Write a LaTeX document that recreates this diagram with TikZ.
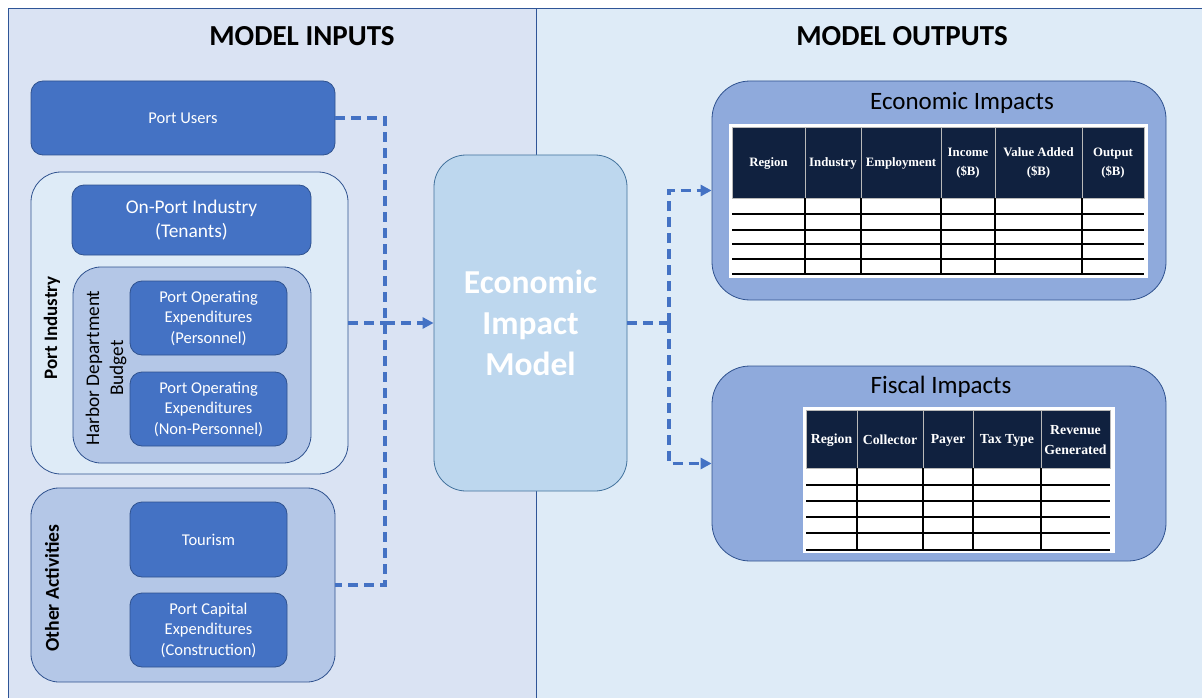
\documentclass[tikz,border=0pt]{standalone}
\usepackage{fontspec}
\setmainfont{Carlito}
\newfontfamily\serifhead{Liberation Serif}
\usetikzlibrary{arrows.meta}

\definecolor{leftbg}{HTML}{DAE3F3}
\definecolor{rightbg}{HTML}{DEEBF7}
\definecolor{panelline}{HTML}{2F5597}
\definecolor{boxblue}{HTML}{4472C4}
\definecolor{boxline}{HTML}{2F528F}
\definecolor{paleblue}{HTML}{DEEBF7}
\definecolor{midblue}{HTML}{B4C7E7}
\definecolor{modelblue}{HTML}{BDD7EE}
\definecolor{modelline}{HTML}{41719C}
\definecolor{outblue}{HTML}{8FAADC}
\definecolor{navy}{HTML}{10213F}

\tikzset{
  inbox/.style={draw=boxline, fill=boxblue, rounded corners=12pt, text=white,
    align=center, line width=0.8pt, inner sep=0pt,
    font=\fontsize{16.5}{20.5}\selectfont},
  group/.style={draw=boxline, line width=0.8pt, rounded corners=28pt, inner sep=0pt},
  sidelabel/.style={rotate=90, align=center, inner sep=0pt},
  flow/.style={draw=boxblue, line width=3.6pt, dash pattern=on 10pt off 6pt},
  flowtip/.style={-{Triangle[length=11pt,width=11pt]}},
  hcell/.style={draw=gray!55, fill=navy, line width=1pt},
  htext/.style={text=white, align=center, inner sep=0pt},
  rowline/.style={black, line width=1.3pt},
}

\begin{document}
\begin{tikzpicture}[x=1pt, y=-1pt]
\useasboundingbox (0,0) rectangle (1202,698);
\clip (0,0) rectangle (1202,698);
\fill[white] (0,0) rectangle (1202,698);

% two halves of the page
\draw[panelline, fill=leftbg, line width=0.8pt] (8,8) rectangle (536,712);
\draw[panelline, fill=rightbg, line width=0.8pt] (536,8) rectangle (1215,712);
\node[font=\fontsize{29}{34}\selectfont\bfseries] (inhead) at (302,36) {MODEL INPUTS};
\node[font=\fontsize{29}{34}\selectfont\bfseries] (outhead) at (902,36) {MODEL OUTPUTS};

% ---------- inputs ----------
\node[inbox] (pu) at (183,118) [minimum width=304pt, minimum height=74pt] {Port Users};

\node[group, fill=paleblue, rounded corners=30pt] (pi) at (189.5,323)
  [minimum width=317pt, minimum height=302pt] {};
\node[sidelabel, font=\fontsize{19}{23}\selectfont\bfseries] (pilab) at (52,328) {Port Industry};
\node[inbox, font=\fontsize{19.4}{24}\selectfont] (opi) at (191.5,220)
  [minimum width=239pt, minimum height=70pt] {On-Port Industry\\(Tenants)};

\node[group, fill=midblue] (hdb) at (192,365) [minimum width=238pt, minimum height=196pt] {};
\node[sidelabel, font=\fontsize{19.3}{24}\selectfont] (hdblab) at (106,368) {Harbor Department\\Budget};
\node[inbox] (poe1) at (208.5,318) [minimum width=157pt, minimum height=74pt]
  {Port Operating\\Expenditures\\(Personnel)};
\node[inbox] (poe2) at (208.5,409) [minimum width=157pt, minimum height=74pt]
  {Port Operating\\Expenditures\\(Non-Personnel)};

\node[group, fill=midblue] (oa) at (183,585) [minimum width=304pt, minimum height=194pt] {};
\node[sidelabel, font=\fontsize{19.7}{24}\selectfont\bfseries] (oalab) at (52,588) {Other Activities};
\node[inbox] (tour) at (208.5,539.5) [minimum width=157pt, minimum height=75pt] {Tourism};
\node[inbox] (pce) at (208.5,630) [minimum width=157pt, minimum height=74pt]
  {Port Capital\\Expenditures\\(Construction)};

% ---------- model ----------
\node[draw=modelline, fill=modelblue, line width=0.8pt, rounded corners=32pt,
      text=white, align=center, font=\fontsize{33.5}{41}\selectfont\bfseries]
  (mdl) at (530.5,323) [minimum width=193pt, minimum height=336pt]
  {Economic\\Impact\\Model};

% ---------- outputs ----------
\node[draw=boxline, fill=outblue, line width=0.8pt, rounded corners=38pt] (ei) at (939,190.5)
  [minimum width=454pt, minimum height=219pt] {};
\node[font=\fontsize{25}{30}\selectfont] (eititle) at (962,103) {Economic Impacts};

\node[draw=boxline, fill=outblue, line width=0.8pt, rounded corners=38pt] (fi) at (939,463.5)
  [minimum width=454pt, minimum height=195pt] {};
\node[font=\fontsize{25}{30}\selectfont] (fititle) at (941,387) {Fiscal Impacts};

% economic impacts table
\fill[white] (729,124) rectangle (1148,278);
\foreach \a/\b/\t in {732/805/{Region}, 805/861/{Industry}, 861/941/{Employment},
    941/995/{Income\\(\$B)}, 995/1082/{Value Added\\(\$B)}, 1082/1144/{Output\\(\$B)}} {
  \draw[hcell] (\a,128) rectangle (\b,198);
  \node[htext, font=\serifhead\bfseries\fontsize{12.8}{19}\selectfont] at ({(\a+\b)/2},163) {\t};
}
\foreach \x in {805,861,941,995,1082} \draw[rowline] (\x,198) -- (\x,274);
\foreach \y in {214,230,244,259,274} \draw[rowline] (732,\y) -- (1144,\y);

% fiscal impacts table
\fill[white] (803,407) rectangle (1115,553);
\foreach \a/\b/\t in {806/857/{Region}, 857/923/{Collector}, 923/973/{Payer},
    973/1041/{Tax Type}, 1041/1110/{Revenue\\Generated}} {
  \draw[hcell] (\a,410) rectangle (\b,468);
  \node[htext, font=\serifhead\bfseries\fontsize{13.8}{20}\selectfont] at ({(\a+\b)/2},440) {\t};
}
\foreach \x in {857,923,973,1041} \draw[rowline] (\x,468) -- (\x,550);
\foreach \y in {485,501,517,533,550} \draw[rowline] (806,\y) -- (1110,\y);

% ---------- connectors ----------
\coordinate (jtop) at (385,118);
\coordinate (jbot) at (385,585);
\coordinate (jmid) at (385,323);
\coordinate (jout) at (669,323);
\draw[flow] (pu.east) -- (jtop) -- (jbot) -- (oa.east);
\draw[flow] (pi.east) -- (jmid);
\draw[flow, flowtip] (jmid) -- (mdl.west);
\draw[flow] (mdl.east) -- (jout);
\draw[flow, flowtip] (jout) |- (ei.west);
\draw[flow, flowtip] (jout) |- (fi.west);
\end{tikzpicture}
\end{document}
